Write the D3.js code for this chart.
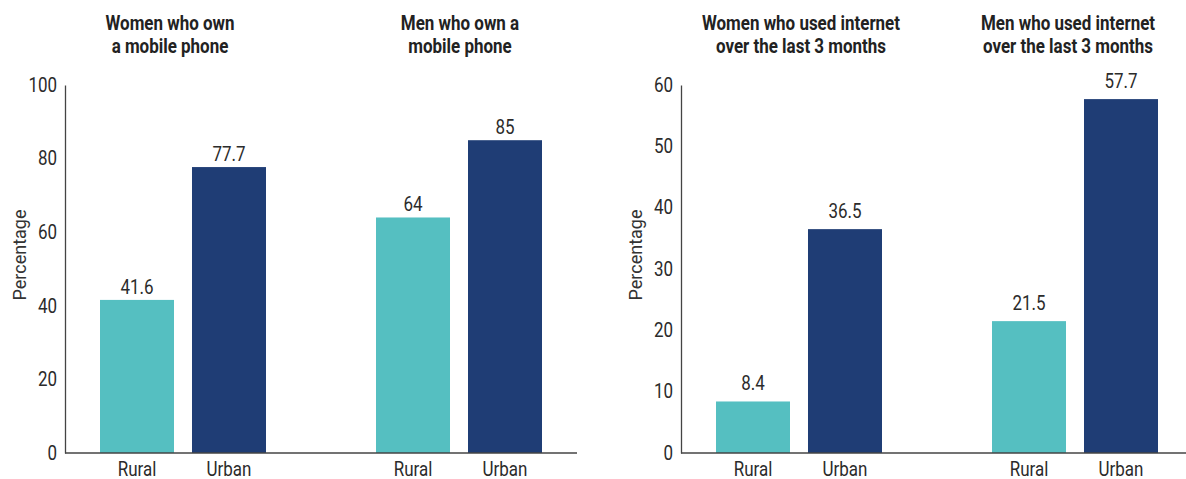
<!DOCTYPE html>
<html>
<head>
<meta charset="utf-8">
<script src="https://cdn.jsdelivr.net/npm/d3@7"></script>
<style>
  html, body { margin: 0; padding: 0; background: #fff; }
  svg { display: block; }
  text { font-family: Roboto, "Liberation Sans", sans-serif; fill: #2b2b2b; }
  .title { font-weight: bold; font-size: 19.5px; fill: #222; }
</style>
</head>
<body>
<svg id="chart" width="1186" height="479"></svg>
<script>
// ---- Data ----
const categories = ["Rural", "Urban"];
const phoneGroups = ["Women who own a mobile phone", "Men who own a mobile phone"];
const phoneTitles = [["Women who own", "a mobile phone"], ["Men who own a", "mobile phone"]];
const phoneRural = [41.6, 64];
const phoneUrban = [77.7, 85];
const phoneTicks = [0, 20, 40, 60, 80, 100];

const netGroups = ["Women who used internet", "Men who used internet"];
const netTitles = [["Women who used internet", "over the last 3 months"], ["Men who used internet", "over the last 3 months"]];
const netRural = [8.4, 21.5];
const netUrban = [36.5, 57.7];
const netTicks = [0, 10, 20, 30, 40, 50, 60];

const yLabel = "Percentage";
const colors = { Rural: "#55bfc1", Urban: "#1f3d75" };

// ---- Drawing ----
const SX = 0.87; // horizontal condensing for a narrow grotesque look
const svg = d3.select("#chart");

function condensedText(parent, x, y, str, size, cls) {
  return parent.append("text")
    .attr("class", cls || null)
    .attr("transform", `translate(${x},${y}) scale(${SX},1)`)
    .attr("text-anchor", "middle")
    .style("font-size", size + "px")
    .text(str);
}

function drawPanel(cfg) {
  const g = svg.append("g");
  const y = d3.scaleLinear().domain([0, cfg.max]).range([453, 85]);
  const x0 = d3.scaleBand().domain(cfg.groups).range([cfg.left, cfg.left + 512])
    .paddingInner(0.3986).paddingOuter(0.1268);
  const x1 = d3.scaleBand().domain(categories).range([0, x0.bandwidth()]).paddingInner(0.1957);

  const rows = [];
  cfg.groups.forEach((grp, i) => {
    rows.push({ grp, cat: "Rural", v: cfg.rural[i] });
    rows.push({ grp, cat: "Urban", v: cfg.urban[i] });
  });
  const cx = d => x0(d.grp) + x1(d.cat) + x1.bandwidth() / 2;

  // bars
  g.selectAll("rect.bar").data(rows).join("rect")
    .attr("class", "bar")
    .attr("x", d => x0(d.grp) + x1(d.cat))
    .attr("width", x1.bandwidth())
    .attr("y", d => y(d.v))
    .attr("height", d => y(0) - y(d.v))
    .attr("fill", d => colors[d.cat]);

  // value + category labels
  rows.forEach(d => {
    condensedText(g, cx(d), y(d.v) - cfg.labelGap, d.v, 19.5, "val");
    condensedText(g, cx(d), 476, d.cat, 19.5, "cat");
  });

  // y axis
  const yAxis = d3.axisLeft(y).tickValues(cfg.ticks).tickSize(0).tickPadding(8);
  const ax = g.append("g").attr("transform", `translate(${cfg.left},0)`).call(yAxis);
  ax.select(".domain").attr("stroke", "#444").attr("stroke-width", 1.3);
  ax.selectAll("text")
    .style("font-size", "19.5px").style("font-family", "Roboto, sans-serif").attr("fill", "#2b2b2b")
    .attr("transform", `scale(${SX},1)`)
    .attr("x", function () { return +d3.select(this).attr("x") / SX; });

  // baseline
  g.append("line")
    .attr("x1", cfg.left).attr("x2", cfg.baseEnd)
    .attr("y1", y(0)).attr("y2", y(0))
    .attr("stroke", "#444").attr("stroke-width", 1.3);

  // y label
  g.append("text")
    .attr("transform", `translate(${cfg.yLabelX},255) rotate(-90)`)
    .attr("text-anchor", "middle")
    .style("font-size", "18px")
    .style("fill", "#333")
    .text(yLabel);

  // titles
  cfg.groups.forEach((grp, i) => {
    const tx = x0(grp) + x0.bandwidth() / 2 + cfg.titleDx[i];
    cfg.titles[i].forEach((line, j) => {
      condensedText(g, tx, 30 + j * 23, line, 19.5, "title");
    });
  });
}

drawPanel({ groups: phoneGroups, titles: phoneTitles, rural: phoneRural, urban: phoneUrban, max: 100, ticks: phoneTicks,
  left: 65, baseEnd: 577, yLabelX: 26, labelGap: 6, titleDx: [-13, 1] });
drawPanel({ groups: netGroups, titles: netTitles, rural: netRural, urban: netUrban, max: 60, ticks: netTicks,
  left: 681, baseEnd: 1186, yLabelX: 642, labelGap: 11, titleDx: [2, -7] });
</script>
</body>
</html>
